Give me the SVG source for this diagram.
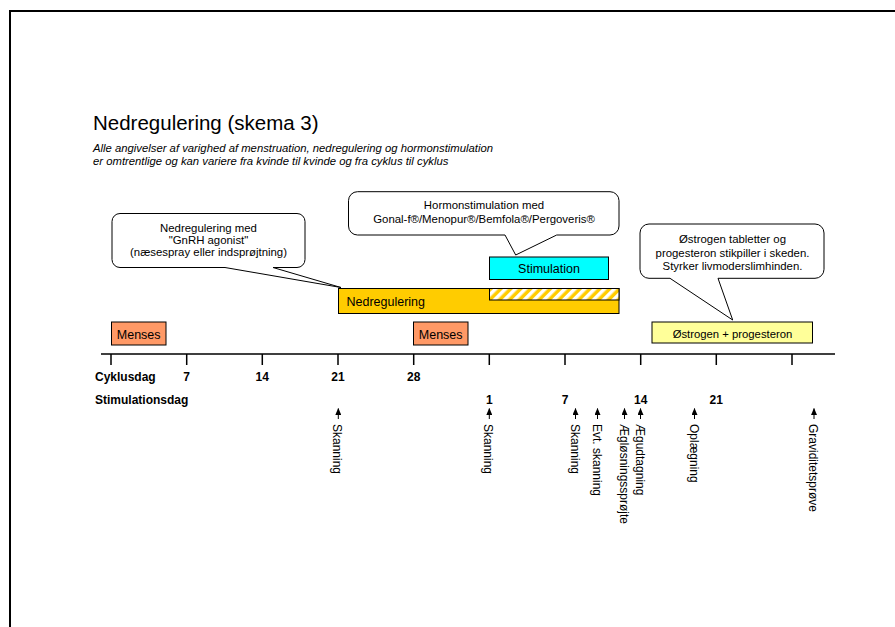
<svg xmlns="http://www.w3.org/2000/svg" width="895" height="627" viewBox="0 0 895 627">
<style>
text{font-family:"Liberation Sans",Arial,sans-serif;fill:#000}
.box{stroke:#000;stroke-width:1}
.lbl{font-size:12.5px}
.call{fill:#fff;stroke:#000;stroke-width:1}
.ct{font-size:11.4px;text-anchor:middle}
.ax{stroke:#000;stroke-width:1.5;fill:none}
.b{font-size:12px;font-weight:bold}
.n{font-size:12px;font-weight:bold;text-anchor:middle}
.ev{font-size:12px}
.arr{stroke:#000;stroke-width:1}
</style>
<defs>
<pattern id="hatch" width="7" height="7" patternUnits="userSpaceOnUse" patternTransform="rotate(45)">
<rect width="7" height="7" fill="#FFCC00"/>
<rect width="3.5" height="7" fill="#FFFFFF"/>
</pattern>
<marker id="ah" markerWidth="7" markerHeight="6" refX="6.5" refY="3" orient="auto" markerUnits="userSpaceOnUse" viewBox="0 0 7 6">
<path d="M0,0 L7,3 L0,6 Z" fill="#000"/>
</marker>
</defs>
<rect width="895" height="627" fill="#fff"/>
<path d="M10,627 V11 H895" fill="none" stroke="#000" stroke-width="2"/>

<g id="title">
<text x="93" y="129.5" font-size="20.5px">Nedregulering (skema 3)</text>
<text x="93" y="152" font-size="11.3px" font-style="italic">Alle angivelser af varighed af menstruation, nedregulering og hormonstimulation</text>
<text x="93" y="165" font-size="11.3px" font-style="italic">er omtrentlige og kan variere fra kvinde til kvinde og fra cyklus til cyklus</text>
</g>

<g id="callout-nedregulering">
<path class="call" d="M120,213.5 H297 A8,8 0 0 1 305,221.5 V259.5 A8,8 0 0 1 297,267.5 H273 L341,287.5 L225,267.5 H120 A8,8 0 0 1 112,259.5 V221.5 A8,8 0 0 1 120,213.5 Z"/>
<text class="ct" x="208.5" y="232.3">Nedregulering med</text>
<text class="ct" x="208.5" y="244.3">"GnRH agonist"</text>
<text class="ct" x="208.5" y="256.3">(næsespray eller indsprøjtning)</text>
</g>

<g id="callout-hormon">
<path class="call" d="M357.5,191.7 H610 A9,9 0 0 1 619,200.7 V226 A9,9 0 0 1 610,235 H556.7 L515.7,255 L505,235 H357.5 A9,9 0 0 1 348.5,226 V200.7 A9,9 0 0 1 357.5,191.7 Z"/>
<text class="ct" x="484" y="208.5">Hormonstimulation med</text>
<text class="ct" x="484" y="223">Gonal-f®/Menopur®/Bemfola®/Pergoveris®</text>
</g>

<g id="callout-ostrogen">
<path class="call" d="M649,224 H815 A9,9 0 0 1 824,233 V269.3 A9,9 0 0 1 815,278.3 H718 L732.7,320 L670,278.3 H649 A9,9 0 0 1 640,269.3 V233 A9,9 0 0 1 649,224 Z"/>
<text class="ct" x="732.5" y="243.3">Østrogen tabletter og</text>
<text class="ct" x="732.5" y="256.5">progesteron stikpiller i skeden.</text>
<text class="ct" x="732.5" y="269.5">Styrker livmoderslimhinden.</text>
</g>

<g id="nedregulering">
<rect class="box" x="338.5" y="288.5" width="280.5" height="25" fill="#FFCC00"/>
<rect class="box" x="489.5" y="288.5" width="129.5" height="11.5" fill="url(#hatch)"/>
<text class="lbl" x="346.5" y="306">Nedregulering</text>
</g>

<g id="stimulation">
<rect class="box" x="489.5" y="257" width="119" height="22.5" fill="#00FFFF"/>
<text class="lbl" x="549" y="273" text-anchor="middle">Stimulation</text>
</g>

<g id="menses-1">
<rect class="box" x="111.5" y="322" width="54.5" height="23" fill="#FF9966"/>
<text class="lbl" x="138.7" y="338.5" text-anchor="middle">Menses</text>
</g>
<g id="menses-2">
<rect class="box" x="413.5" y="322" width="54.5" height="23" fill="#FF9966"/>
<text class="lbl" x="440.7" y="338.5" text-anchor="middle">Menses</text>
</g>

<g id="ostrogen">
<rect class="box" x="652" y="322" width="160.5" height="21" fill="#FFFF99"/>
<text x="732.5" y="337.5" font-size="11.3px" text-anchor="middle">Østrogen + progesteron</text>
</g>

<g id="axis">
<path class="ax" d="M101,354 H835 M111,354 V365 M186.7,354 V365 M262.3,354 V365 M338,354 V365 M413.7,354 V365 M489.3,354 V365 M565,354 V365 M640.7,354 V365 M716.3,354 V365 M792,354 V365"/>
<text class="b" x="95" y="381">Cyklusdag</text>
<text class="n" x="186.7" y="381">7</text>
<text class="n" x="262.3" y="381">14</text>
<text class="n" x="338" y="381">21</text>
<text class="n" x="413.7" y="381">28</text>
<text class="b" x="95" y="404">Stimulationsdag</text>
<text class="n" x="489.3" y="404">1</text>
<text class="n" x="565" y="404">7</text>
<text class="n" x="640.7" y="404">14</text>
<text class="n" x="716.3" y="404">21</text>
</g>

<g id="connectors">
<line class="arr" x1="338.3" y1="419" x2="338.3" y2="408.5" marker-end="url(#ah)"/>
<line class="arr" x1="489.3" y1="419" x2="489.3" y2="408.5" marker-end="url(#ah)"/>
<line class="arr" x1="575.5" y1="419" x2="575.5" y2="408.5" marker-end="url(#ah)"/>
<line class="arr" x1="597.5" y1="419" x2="597.5" y2="408.5" marker-end="url(#ah)"/>
<line class="arr" x1="624.5" y1="419" x2="624.5" y2="408.5" marker-end="url(#ah)"/>
<line class="arr" x1="640.5" y1="419" x2="640.5" y2="408.5" marker-end="url(#ah)"/>
<line class="arr" x1="694.5" y1="419" x2="694.5" y2="408.5" marker-end="url(#ah)"/>
<line class="arr" x1="814" y1="419" x2="814" y2="408.5" marker-end="url(#ah)"/>
</g>

<g id="events">
<text class="ev" transform="translate(333.3,424) rotate(90)">Skanning</text>
<text class="ev" transform="translate(484.3,424) rotate(90)">Skanning</text>
<text class="ev" transform="translate(570.5,424) rotate(90)">Skanning</text>
<text class="ev" transform="translate(592.5,424) rotate(90)">Evt. skanning</text>
<text class="ev" transform="translate(619.5,424) rotate(90)">Ægløsningssprøjte</text>
<text class="ev" transform="translate(635.5,424) rotate(90)">Ægudtagning</text>
<text class="ev" transform="translate(689.5,424) rotate(90)">Oplægning</text>
<text class="ev" transform="translate(809,424) rotate(90)">Graviditetsprøve</text>
</g>
</svg>
